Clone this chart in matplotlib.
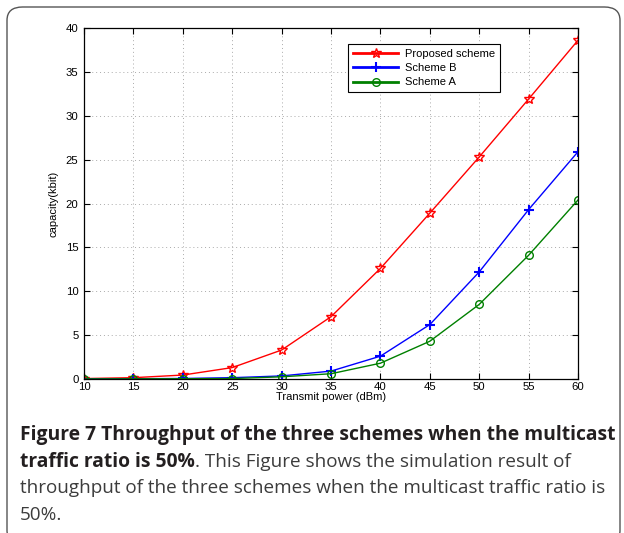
import numpy as np
import matplotlib
matplotlib.use('Agg')
import matplotlib.pyplot as plt
from matplotlib.patches import FancyBboxPatch

# transmit power (dBm) and capacity (kbit) for each scheme
power = [10, 15, 20, 25, 30, 35, 40, 45, 50, 55, 60]
proposed = [0.05, 0.15, 0.45, 1.3, 3.3, 7.1, 12.6, 18.9, 25.3, 31.9, 38.6]
scheme_b = [0.02, 0.03, 0.06, 0.15, 0.35, 0.9, 2.6, 6.2, 12.2, 19.3, 25.9]
scheme_a = [0.01, 0.02, 0.03, 0.05, 0.25, 0.6, 1.8, 4.3, 8.5, 14.1, 20.4]
x_ticks = [10, 15, 20, 25, 30, 35, 40, 45, 50, 55, 60]
y_ticks = [0, 5, 10, 15, 20, 25, 30, 35, 40]

caption_bold_1 = 'Figure 7 Throughput of the three schemes when the multicast'
caption_bold_2 = 'traffic ratio is 50%'
caption_rest_2 = '. This Figure shows the simulation result of'
caption_line_3 = 'throughput of the three schemes when the multicast traffic ratio is'
caption_line_4 = '50%.'

fig = plt.figure(figsize=(6.24, 5.33), dpi=100)

# rounded frame around figure + caption
frame = FancyBboxPatch((7 / 624, -0.02), 613 / 624, 1.0 - 7 / 533 + 0.02,
                       boxstyle='round,pad=0,rounding_size=0.025',
                       transform=fig.transFigure, fill=False,
                       edgecolor='#555555', linewidth=1.0)
fig.patches.append(frame)

ax = fig.add_axes([84 / 624, 1 - 379 / 533, 494 / 624, 351 / 533])
ax.plot(power, proposed, color='red', marker='*', markersize=7,
        markerfacecolor='none', markeredgewidth=1.0, linewidth=1.0,
        label='Proposed scheme')
ax.plot(power, scheme_b, color='blue', marker='+', markersize=7,
        markeredgewidth=1.5, linewidth=1.0, label='Scheme B')
ax.plot(power, scheme_a, color='green', marker='o', markersize=5.5,
        markerfacecolor='none', markeredgewidth=1.0, linewidth=1.0,
        label='Scheme A')

ax.set_xlim(10, 60)
ax.set_ylim(0, 40)
ax.set_xticks(x_ticks)
ax.set_yticks(y_ticks)
ax.tick_params(direction='in', top=True, right=True, length=4,
               labelsize=8.2)
ax.tick_params(axis='x', pad=2.5)
ax.tick_params(axis='y', pad=4)
for lab in ax.get_xticklabels() + ax.get_yticklabels():
    lab.set_family('Liberation Sans')
ax.grid(True, linestyle=(0, (1, 3)), color='#aaaaaa', linewidth=0.7)
for sp in ax.spines.values():
    sp.set_linewidth(0.9)
ax.set_xlabel('Transmit power (dBm)', fontsize=8, family='Liberation Sans',
              labelpad=0)
ax.set_ylabel('capacity(kbit)', fontsize=8, family='Liberation Sans',
              labelpad=5)

leg = ax.legend(loc='upper left', bbox_to_anchor=(0.524, 0.9715),
                handlelength=4.0, handletextpad=0.6,
                borderpad=0.45, labelspacing=0.4, fancybox=False,
                framealpha=1, edgecolor='black',
                prop={'family': 'Liberation Sans', 'size': 8})
leg.get_frame().set_linewidth(0.8)
for h in leg.legend_handles:
    h.set_linewidth(2.0)

# caption below the chart: bold title then plain description
bold_kw = dict(fontsize=13.9, family='Open Sans', color='#231f20',
               fontweight='bold', transform=fig.transFigure, va='baseline')
plain_kw = dict(fontsize=13.6, family='Open Sans', color='#3c3c3c',
                transform=fig.transFigure, va='baseline')
x0 = 20 / 624
ys = [1 - 440 / 533, 1 - 467 / 533, 1 - 493 / 533, 1 - 520 / 533]
fig.text(x0, ys[0], caption_bold_1, **bold_kw)
t = fig.text(x0, ys[1], caption_bold_2, **bold_kw)
renderer = fig.canvas.get_renderer()
bb = t.get_window_extent(renderer=renderer)
fig.text(bb.x1 / fig.bbox.width, ys[1], caption_rest_2, **plain_kw)
fig.text(x0, ys[2], caption_line_3, **plain_kw)
fig.text(x0, ys[3], caption_line_4, **plain_kw)

fig.savefig('out.png', dpi=100)
